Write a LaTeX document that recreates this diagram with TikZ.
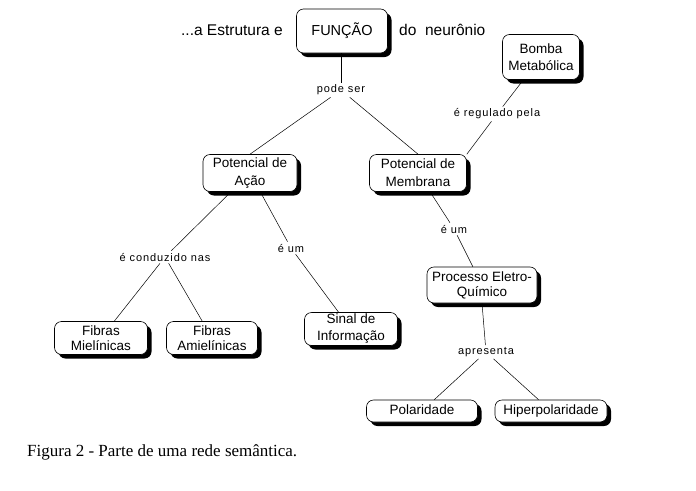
\documentclass[tikz,border=0pt]{standalone}
\usepackage{fontspec}
\setmainfont{Liberation Sans}
\newfontfamily\capfont{Liberation Serif}
\newfontfamily\lblfont[LetterSpace=8]{Liberation Sans}
\usetikzlibrary{shadows}
\tikzset{
  concept/.style={draw, fill=white, rounded corners=7pt, line width=0.6pt, align=center,
    inner sep=1pt, font=\fontsize{13.5}{15}\selectfont,
    drop shadow={shadow xshift=4pt, shadow yshift=-4pt, fill=black, opacity=1}},
  wide/.style={font=\fontsize{13.5}{18}\selectfont},
  link/.style={inner sep=2pt, font=\lblfont\fontsize{11}{12}\selectfont},
  plain/.style={inner sep=1pt, font=\fontsize{15.5}{17}\selectfont},
  conn/.style={line width=0.5pt}
}
\begin{document}
\begin{tikzpicture}[x=1pt,y=-1pt]
\useasboundingbox[fill=white] (0,0) rectangle (696,490);
% concepts
\node[concept, minimum width=91pt, minimum height=44pt, font=\fontsize{14.5}{16}\selectfont] (fun) at (342,31) {FUNÇÃO};
\node[plain, anchor=east] (estr) at (284,30) {...a Estrutura e};
\node[plain, anchor=west] (neur) at (398,30) {do\ \ neurônio};
\node[concept, wide, minimum width=77pt, minimum height=45pt, font=\fontsize{13.5}{17}\selectfont] (bomba) at (541,57) {Bomba\\Metabólica};
\node[concept, wide, minimum width=94pt, minimum height=37pt] (pa) at (250,173) {Potencial de\\Ação};
\node[concept, wide, minimum width=97pt, minimum height=37pt] (pm) at (418,173) {Potencial de\\Membrana};
\node[concept, minimum width=93pt, minimum height=33pt] (fm) at (101,338) {Fibras\\Mielínicas};
\node[concept, minimum width=91pt, minimum height=33pt] (fa) at (212,338) {Fibras\\Amielínicas};
\node[concept, minimum width=93pt, minimum height=33pt, font=\fontsize{13.5}{17}\selectfont] (sinal) at (351,329) {Sinal de\\Informação};
\node[concept, minimum width=110pt, minimum height=36pt] (proc) at (482,285) {Processo Eletro-\\Químico};
\node[concept, minimum width=111pt, minimum height=22pt] (pol) at (422,411) {\strut Polaridade};
\node[concept, minimum width=112pt, minimum height=22pt] (hip) at (551,411) {\strut Hiperpolaridade};
% link labels
\node[link] (ps) at (341,90) {pode ser};
\node[link] (reg) at (497,114) {é regulado pela};
\node[link] (cond) at (165,257) {é conduzido nas};
\node[link] (um1) at (291,248) {é um};
\node[link] (um2) at (454,229) {é um};
\node[link] (apr) at (486,352) {apresenta};
% connectors
\draw[conn] (fun.south -| ps) -- (ps);
\draw[conn] (ps) -- (pa.north);
\draw[conn] (ps) -- (pm.north);
\draw[conn] (bomba) -- (reg);
\draw[conn] (reg) -- (pm.north east);
\draw[conn] (pa) -- (cond);
\draw[conn] (pa) -- (um1);
\draw[conn] (cond) -- (fm);
\draw[conn] (cond) -- (fa);
\draw[conn] (um1) -- (sinal);
\draw[conn] (pm) -- (um2);
\draw[conn] (um2) -- (proc);
\draw[conn] (proc.south) -- (apr);
\draw[conn] (apr) -- (pol);
\draw[conn] (apr) -- (hip);
% caption
\node[anchor=west, inner sep=0pt, font=\capfont\fontsize{17}{19}\selectfont] (cap) at (27,452) {Figura 2 - Parte de uma rede semântica.};
\end{tikzpicture}
\end{document}
